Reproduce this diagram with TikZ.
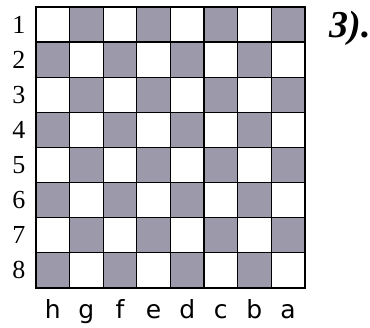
\documentclass[tikz,border=0pt]{standalone}
\usepackage{fontspec}
\setmainfont{Liberation Serif}
\newfontfamily\lettfont{DejaVu Sans}
\usepackage{xcolor}
\definecolor{darksq}{RGB}{155,153,170}

\begin{document}
\begin{tikzpicture}[
  x=1pt,y=-1pt,
  sq/.style={draw=black,line width=1.2pt},
  rowlab/.style={font=\fontsize{26}{26}\selectfont,anchor=base},
  collab/.style={font=\lettfont\fontsize{25}{25}\selectfont,anchor=base},
  every node/.style={inner sep=0pt}
]
\useasboundingbox (0,0) rectangle (370,328);
\def\cw{33.6}
\def\ch{35.1}
% squares
\foreach \r in {1,...,8}{
  \foreach \c in {1,...,8}{
    \pgfmathparse{mod(\r+\c,2)==1 ? "darksq" : "white"}
    \edef\sqcol{\pgfmathresult}
    \filldraw[sq,fill=\sqcol] ({36+(\c-1)*\cw},{7+(\r-1)*\ch}) rectangle ++(\cw,\ch);
  }
}
\draw[line width=1.8pt] (36,7) rectangle (305,288);
% labels
\foreach \r in {1,...,8}
  \node[rowlab] (row\r) at (19,{7+(\r-0.5)*\ch+8.5}) {\r};
\foreach \l [count=\c] in {h,g,f,e,d,c,b,a}
  \node[collab] (col\l) at ({36+(\c-0.5)*\cw},319) {\l};
\node[font=\fontsize{38}{38}\selectfont\bfseries\itshape,anchor=base] (num) at (350,38) {3).};
\end{tikzpicture}
\end{document}
